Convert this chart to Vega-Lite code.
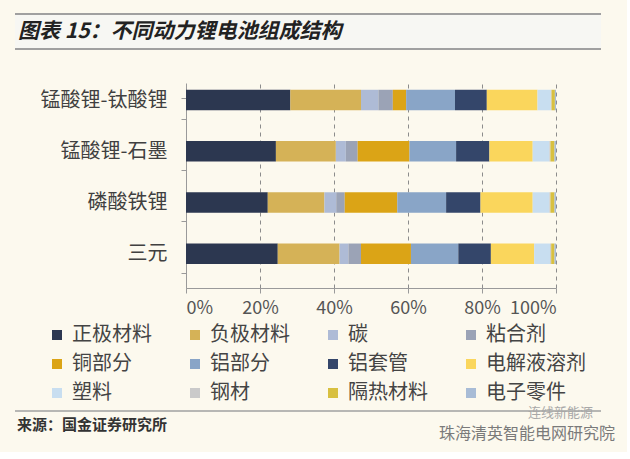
{
  "$schema": "https://vega.github.io/schema/vega-lite/v6.json",
  "background": "#fcf9ee",
  "padding": {"left": 14, "top": 13, "right": 12, "bottom": 10},
  "spacing": 0,
  "align": "none",
  "config": {"font": "Noto Sans CJK SC", "view": {"stroke": null}},
  "datasets": {
    "header": [{"t": "图表 15：不同动力锂电池组成结构"}],
    "footer": [{"src": "来源：国金证券研究所", "wm1": "连线新能源", "wm2": "珠海清英智能电网研究院"}],
    "parts": [
      {"battery": "锰酸锂-钛酸锂", "part": "正极材料", "k": 1, "pct": 28.2},
      {"battery": "锰酸锂-钛酸锂", "part": "负极材料", "k": 2, "pct": 19.1},
      {"battery": "锰酸锂-钛酸锂", "part": "碳", "k": 3, "pct": 4.7},
      {"battery": "锰酸锂-钛酸锂", "part": "粘合剂", "k": 4, "pct": 3.9},
      {"battery": "锰酸锂-钛酸锂", "part": "铜部分", "k": 5, "pct": 3.6},
      {"battery": "锰酸锂-钛酸锂", "part": "铝部分", "k": 6, "pct": 13.2},
      {"battery": "锰酸锂-钛酸锂", "part": "铝套管", "k": 7, "pct": 8.6},
      {"battery": "锰酸锂-钛酸锂", "part": "电解液溶剂", "k": 8, "pct": 13.7},
      {"battery": "锰酸锂-钛酸锂", "part": "塑料", "k": 9, "pct": 3.6},
      {"battery": "锰酸锂-钛酸锂", "part": "钢材", "k": 10, "pct": 0.2},
      {"battery": "锰酸锂-钛酸锂", "part": "隔热材料", "k": 11, "pct": 0.9},
      {"battery": "锰酸锂-钛酸锂", "part": "电子零件", "k": 12, "pct": 0.3},
      {"battery": "锰酸锂-石墨", "part": "正极材料", "k": 1, "pct": 24.3},
      {"battery": "锰酸锂-石墨", "part": "负极材料", "k": 2, "pct": 16.2},
      {"battery": "锰酸锂-石墨", "part": "碳", "k": 3, "pct": 2.7},
      {"battery": "锰酸锂-石墨", "part": "粘合剂", "k": 4, "pct": 3.2},
      {"battery": "锰酸锂-石墨", "part": "铜部分", "k": 5, "pct": 14.0},
      {"battery": "锰酸锂-石墨", "part": "铝部分", "k": 6, "pct": 12.6},
      {"battery": "锰酸锂-石墨", "part": "铝套管", "k": 7, "pct": 9.0},
      {"battery": "锰酸锂-石墨", "part": "电解液溶剂", "k": 8, "pct": 11.7},
      {"battery": "锰酸锂-石墨", "part": "塑料", "k": 9, "pct": 4.5},
      {"battery": "锰酸锂-石墨", "part": "钢材", "k": 10, "pct": 0.3},
      {"battery": "锰酸锂-石墨", "part": "隔热材料", "k": 11, "pct": 1.1},
      {"battery": "锰酸锂-石墨", "part": "电子零件", "k": 12, "pct": 0.4},
      {"battery": "磷酸铁锂", "part": "正极材料", "k": 1, "pct": 22.1},
      {"battery": "磷酸铁锂", "part": "负极材料", "k": 2, "pct": 15.3},
      {"battery": "磷酸铁锂", "part": "碳", "k": 3, "pct": 3.2},
      {"battery": "磷酸铁锂", "part": "粘合剂", "k": 4, "pct": 2.3},
      {"battery": "磷酸铁锂", "part": "铜部分", "k": 5, "pct": 14.2},
      {"battery": "磷酸铁锂", "part": "铝部分", "k": 6, "pct": 13.2},
      {"battery": "磷酸铁锂", "part": "铝套管", "k": 7, "pct": 9.3},
      {"battery": "磷酸铁锂", "part": "电解液溶剂", "k": 8, "pct": 14.1},
      {"battery": "磷酸铁锂", "part": "塑料", "k": 9, "pct": 4.5},
      {"battery": "磷酸铁锂", "part": "钢材", "k": 10, "pct": 0.3},
      {"battery": "磷酸铁锂", "part": "隔热材料", "k": 11, "pct": 1.1},
      {"battery": "磷酸铁锂", "part": "电子零件", "k": 12, "pct": 0.4},
      {"battery": "三元", "part": "正极材料", "k": 1, "pct": 24.8},
      {"battery": "三元", "part": "负极材料", "k": 2, "pct": 16.7},
      {"battery": "三元", "part": "碳", "k": 3, "pct": 2.4},
      {"battery": "三元", "part": "粘合剂", "k": 4, "pct": 3.4},
      {"battery": "三元", "part": "铜部分", "k": 5, "pct": 13.5},
      {"battery": "三元", "part": "铝部分", "k": 6, "pct": 12.8},
      {"battery": "三元", "part": "铝套管", "k": 7, "pct": 8.8},
      {"battery": "三元", "part": "电解液溶剂", "k": 8, "pct": 11.7},
      {"battery": "三元", "part": "塑料", "k": 9, "pct": 4.3},
      {"battery": "三元", "part": "钢材", "k": 10, "pct": 0.3},
      {"battery": "三元", "part": "隔热材料", "k": 11, "pct": 0.9},
      {"battery": "三元", "part": "电子零件", "k": 12, "pct": 0.4}
    ]
  },
  "vconcat": [
    {
      "width": 415,
      "height": 35,
      "data": {"name": "header"},
      "layer": [
        {
          "mark": {"type": "rect", "color": "#f7f7f3"},
          "encoding": {
            "x": {"datum": 0, "type": "quantitative", "scale": {"domain": [0, 1], "range": [-171, 415]}, "axis": null},
            "x2": {"datum": 1},
            "y": {"datum": 0, "type": "quantitative", "scale": {"domain": [0, 1]}, "axis": null},
            "y2": {"datum": 1}
          }
        },
        {
          "mark": {"type": "rule", "color": "#a0a0a0", "strokeWidth": 2},
          "encoding": {"x": {"datum": 0, "type": "quantitative"}, "x2": {"datum": 1}, "y": {"datum": 0, "type": "quantitative"}}
        },
        {
          "mark": {"type": "rule", "color": "#a0a0a0", "strokeWidth": 2},
          "encoding": {"x": {"datum": 0, "type": "quantitative"}, "x2": {"datum": 1}, "y": {"datum": 1, "type": "quantitative"}}
        },
        {
          "mark": {"type": "text", "align": "left", "baseline": "middle", "fontSize": 21, "fontWeight": "bold", "fontStyle": "italic", "color": "#222222", "dx": 3},
          "encoding": {
            "x": {"datum": 0, "type": "quantitative"},
            "y": {"datum": 0.5, "type": "quantitative"},
            "text": {"field": "t"}
          }
        }
      ]
    },
    {
      "width": 370,
      "height": 205,
      "data": {"name": "parts"},
      "mark": {"type": "bar", "yOffset": -8.6},
      "encoding": {
        "y": {
          "field": "battery",
          "type": "nominal",
          "sort": ["锰酸锂-钛酸锂", "锰酸锂-石墨", "磷酸铁锂", "三元"],
          "scale": {"paddingInner": 0.6, "paddingOuter": 0.3},
          "axis": {
            "title": " ",
            "titleX": -171,
            "titleY": -33,
            "titleAngle": 0,
            "titleAlign": "left",
            "titleBaseline": "top",
            "titleFontSize": 4,
            "tickBand": "extent",
            "labelOffset": -8.6,
            "labelFontSize": 20,
            "labelColor": "#404040",
            "labelPadding": 14,
            "labelLimit": 300,
            "tickSize": 5,
            "domainColor": "#9a9a9a",
            "tickColor": "#9a9a9a"
          }
        },
        "x": {
          "field": "pct",
          "type": "quantitative",
          "stack": "normalize",
          "scale": {"domain": [0, 1]},
          "axis": {
            "title": " ",
            "titleX": 0,
            "titleY": 119,
            "titleAlign": "left",
            "titleBaseline": "bottom",
            "titleFontSize": 4,
            "format": "%",
            "values": [0, 0.2, 0.4, 0.6, 0.8, 1],
            "grid": true,
            "gridDash": [4, 4],
            "gridColor": "#8c8c8c",
            "domainColor": "#9a9a9a",
            "tickColor": "#9a9a9a",
            "tickSize": 5,
            "labelFontSize": 18,
            "labelColor": "#555555",
            "labelPadding": 6
          }
        },
        "color": {
          "field": "part",
          "type": "nominal",
          "scale": {
            "domain": ["正极材料", "负极材料", "碳", "粘合剂", "铜部分", "铝部分", "铝套管", "电解液溶剂", "塑料", "钢材", "隔热材料", "电子零件"],
            "range": ["#2c3750", "#d5b257", "#aebbd6", "#9ba3b6", "#dba416", "#89a5c7", "#34466a", "#fad65c", "#c8def0", "#cacaca", "#d8c040", "#a8bcd6"]
          },
          "legend": {
            "orient": "none",
            "legendX": -139,
            "legendY": 311,
            "columns": 4,
            "direction": "horizontal",
            "title": null,
            "symbolType": "square",
            "symbolSize": 100,
            "symbolStrokeWidth": 0,
            "labelFontSize": 20,
            "labelColor": "#444444",
            "labelOffset": 5,
            "columnPadding": 13,
            "rowPadding": 9,
            "gridAlign": "all",
            "padding": 0
          }
        },
        "order": {"field": "k", "type": "quantitative"}
      }
    },
    {
      "width": 415,
      "height": 28,
      "data": {"name": "footer"},
      "layer": [
        {
          "mark": {"type": "rule", "color": "#a0a0a0", "strokeWidth": 1.5},
          "encoding": {
            "x": {"datum": 0, "type": "quantitative", "scale": {"domain": [0, 1], "range": [-171, 415]}, "axis": null},
            "x2": {"datum": 1},
            "y": {"datum": 1, "type": "quantitative", "scale": {"domain": [0, 1]}, "axis": null}
          }
        },
        {
          "mark": {"type": "text", "align": "left", "baseline": "middle", "fontSize": 15, "fontWeight": "bold", "color": "#333333", "dx": 2},
          "encoding": {
            "x": {"datum": 0, "type": "quantitative"},
            "y": {"datum": 0.5, "type": "quantitative"},
            "text": {"field": "src"}
          }
        },
        {
          "mark": {"type": "text", "align": "right", "baseline": "middle", "fontSize": 16, "color": "#7a7a7a", "dx": 14, "dy": 9},
          "encoding": {
            "x": {"datum": 1, "type": "quantitative"},
            "y": {"datum": 0.5, "type": "quantitative"},
            "text": {"field": "wm2"}
          }
        },
        {
          "mark": {"type": "text", "align": "right", "baseline": "middle", "fontSize": 13, "color": "#a8a8a8", "dx": -8, "dy": 2},
          "encoding": {
            "x": {"datum": 1, "type": "quantitative"},
            "y": {"datum": 1, "type": "quantitative"},
            "text": {"field": "wm1"}
          }
        }
      ]
    }
  ]
}
